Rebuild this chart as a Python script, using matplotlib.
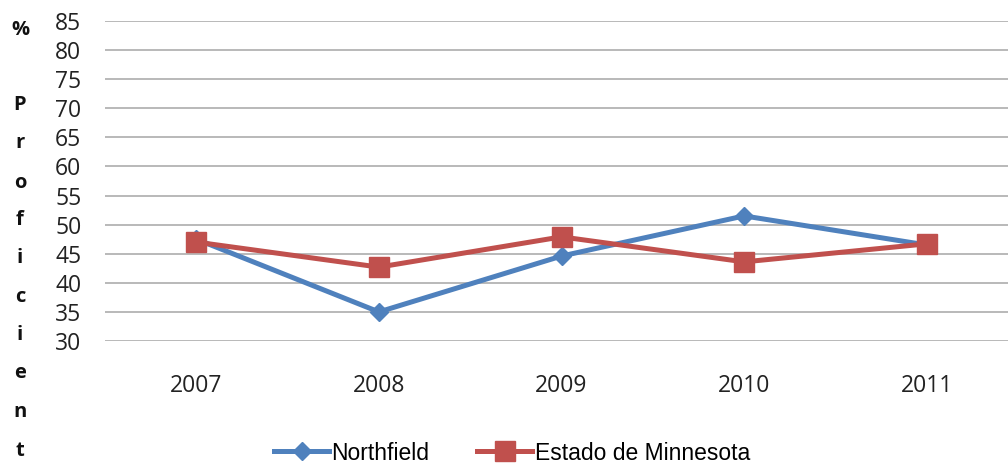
import numpy as np
import matplotlib
matplotlib.use('Agg')
import matplotlib.pyplot as plt

years = ['2007', '2008', '2009', '2010', '2011']
northfield = [47.5, 35.0, 44.6, 51.5, 46.5]
minnesota = [47.0, 42.7, 47.9, 43.6, 46.7]
ylabel_letters = ['%', '', 'P', 'r', 'o', 'f', 'i', 'c', 'i', 'e', 'n', 't']

blue = '#4F81BD'
red = '#C0504D'

fig = plt.figure(figsize=(10.08, 4.65), dpi=100)
ax = fig.add_axes([105/1008, 124/465, 903/1008, 320/465])

x = np.arange(len(years))
ax.plot(x, northfield, color=blue, lw=3.6, marker='D', ms=9, label='Northfield',
        solid_joinstyle='miter', zorder=3)
ax.plot(x, minnesota, color=red, lw=3.6, marker='s', ms=14, label='Estado de Minnesota',
        solid_joinstyle='miter', zorder=4)

ax.set_ylim(30, 85)
ax.set_yticks(np.arange(30, 86, 5))
ax.set_xlim(-0.5, 4.445)
ax.set_xticks(x)
ax.set_xticklabels(years)
ax.grid(axis='y', color='#A6A6A6', lw=1.1)
ax.set_axisbelow(True)
for s in ax.spines.values():
    s.set_visible(False)
ax.tick_params(axis='both', length=0, labelsize=16.5, labelcolor='#222222')
ax.tick_params(axis='y', pad=17)
ax.tick_params(axis='x', pad=24)
for lab in ax.get_xticklabels() + ax.get_yticklabels():
    lab.set_family('Open Sans')

# vertical "% Proficient" label, one letter per line
ys = [30, 68, 105, 143, 183, 220, 258, 297, 335, 373, 412, 451]
for ch, yy in zip(ylabel_letters, ys):
    if ch:
        fig.text(20/1008, 1 - yy/465, ch, ha='center', va='center',
                 fontsize=14.5, fontweight='bold', family='Open Sans', color='#111111')

fig.legend(loc='center', bbox_to_anchor=(512/1008, 1 - 453/465), ncol=2, frameon=False,
           prop={'family': 'Liberation Sans', 'size': 16.5}, handlelength=2.4,
           handletextpad=0.1, columnspacing=2.1, numpoints=1)

fig.savefig('out.png', dpi=100)
